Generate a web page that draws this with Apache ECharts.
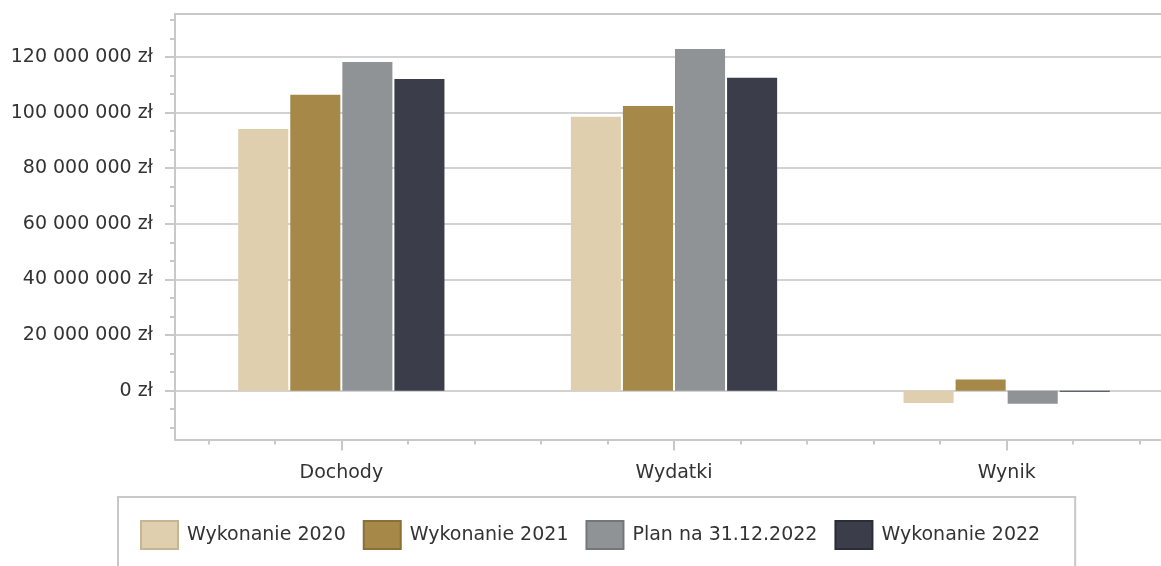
<!DOCTYPE html>
<html>
<head>
<meta charset="utf-8">
<script src="https://cdn.jsdelivr.net/npm/echarts@6/dist/echarts.min.js"></script>
<style>
html,body{margin:0;padding:0;background:#fff;overflow:hidden;}
#chart{width:1185px;height:566px;}
</style>
</head>
<body>
<div id="chart"></div>
<script>
const categories = ['Dochody', 'Wydatki', 'Wynik'];
const seriesNames = ['Wykonanie 2020', 'Wykonanie 2021', 'Plan na 31.12.2022', 'Wykonanie 2022'];
const wykonanie2020 = [94100000, 98500000, -4400000];
const wykonanie2021 = [106400000, 102400000, 4000000];
const plan2022 = [118200000, 122900000, -4700000];
const wykonanie2022 = [112100000, 112500000, -400000];
const yMajorTicks = [0, 20000000, 40000000, 60000000, 80000000, 100000000, 120000000];
const yMinorTicks = [-13333333, -6666667, 6666667, 13333333, 26666667, 33333333, 46666667, 53333333,
  66666667, 73333333, 86666667, 93333333, 106666667, 113333333, 126666667, 133333333];
const xMinorTicks = [0.1, 0.3, 0.7, 0.9, 1.1, 1.3, 1.7, 1.9, 2.1, 2.3, 2.7, 2.9];

const colors = ['#DFCFAF', '#A68848', '#8F9396', '#3B3E4A'];
const borderColors = ['#C4B595', '#8A6F36', '#73777A', '#2A2C36'];
const values = [wykonanie2020, wykonanie2021, plan2022, wykonanie2022];

const yMin = -17550000, yMax = 135450000;
const gridC = '#c8c8c8';

function fmt(v) {
  return String(Math.round(v)).replace(/\B(?=(\d{3})+(?!\d))/g, ' ') + ' zł';
}

const chart = echarts.init(document.getElementById('chart'), null, {renderer: 'canvas'});
chart.setOption({
  animation: false,
  textStyle: {fontFamily: 'DejaVu Sans'},
  grid: {left: 175, top: 14, width: 998, height: 425.5, show: false, containLabel: false},
  legend: {
    left: 118, top: 497,
    padding: [23, 35, 40, 22],
    borderColor: gridC, borderWidth: 2,
    itemWidth: 37, itemHeight: 28, itemGap: 17,
    icon: 'rect',
    textStyle: {fontSize: 19, color: '#333', fontFamily: 'DejaVu Sans', padding: [0, 0, 0, 4]},
    data: seriesNames.map((n, i) => ({name: n, itemStyle: {color: colors[i], borderColor: borderColors[i], borderWidth: 2}}))
  },
  xAxis: [
    {
      type: 'category', data: categories, boundaryGap: true, position: 'bottom',
      axisLine: {show: true, onZero: false, lineStyle: {color: gridC, width: 2}},
      axisTick: {show: true, alignWithLabel: true, length: 11, lineStyle: {color: gridC, width: 2}},
      axisLabel: {fontSize: 19, color: '#333', margin: 24, fontFamily: 'DejaVu Sans'},
      splitLine: {show: false}
    },
    {
      type: 'value', min: 0, max: 3, position: 'bottom', gridIndex: 0,
      axisLine: {show: false, onZero: false},
      axisTick: {show: true, customValues: xMinorTicks, length: 5, lineStyle: {color: gridC, width: 2}},
      axisLabel: {show: false},
      splitLine: {show: false}
    },
    {
      type: 'category', data: categories, position: 'top', gridIndex: 0,
      axisLine: {show: true, onZero: false, lineStyle: {color: gridC, width: 2}},
      axisTick: {show: false},
      axisLabel: {show: false},
      splitLine: {show: false}
    }
  ],
  yAxis: [
    {
      type: 'value', min: yMin, max: yMax, position: 'left',
      axisLine: {show: true, onZero: false, lineStyle: {color: gridC, width: 2}},
      axisTick: {show: true, customValues: yMajorTicks, length: 10, lineStyle: {color: gridC, width: 2}},
      axisLabel: {customValues: yMajorTicks, formatter: fmt, fontSize: 19, color: '#333', margin: 22, fontFamily: 'DejaVu Sans'},
      splitLine: {show: true, lineStyle: {color: '#d2d2d2', width: 2}}
    },
    {
      type: 'value', min: yMin, max: yMax, position: 'left',
      axisLine: {show: false, onZero: false},
      axisTick: {show: true, customValues: yMinorTicks, length: 5, lineStyle: {color: gridC, width: 2}},
      axisLabel: {show: false},
      splitLine: {show: false}
    }
  ],
  series: seriesNames.map((n, i) => ({
    name: n, type: 'bar', xAxisIndex: 0, yAxisIndex: 0,
    data: values[i],
    barGap: '4%', barCategoryGap: '38%',
    itemStyle: {color: colors[i]}
  }))
});
</script>
</body>
</html>
